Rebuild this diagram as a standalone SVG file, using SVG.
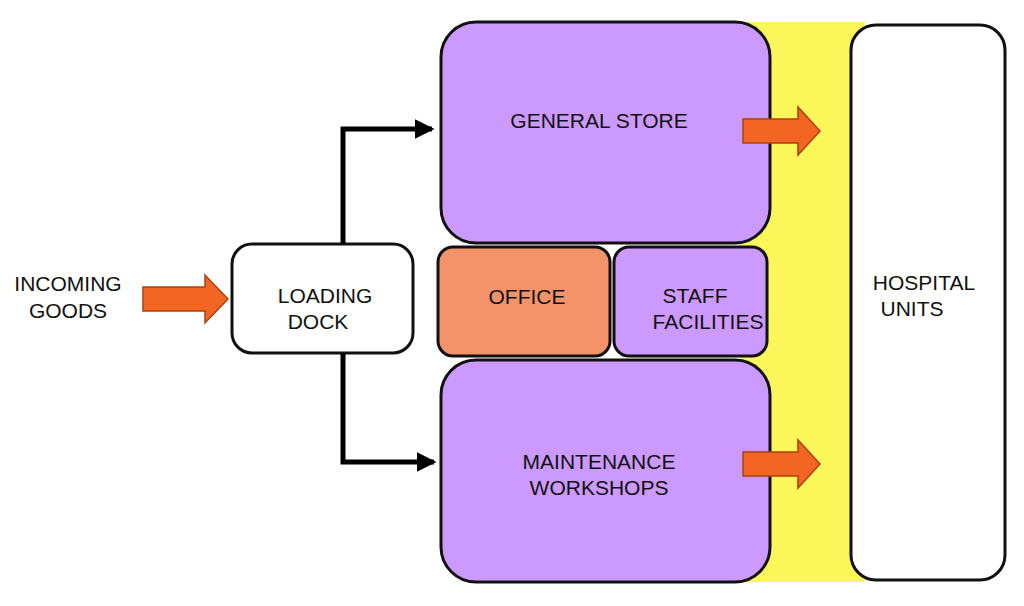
<svg xmlns="http://www.w3.org/2000/svg" width="1024" height="606" viewBox="0 0 1024 606">
<defs>
<style>
.box{stroke:#111;stroke-width:3}
.p{fill:#cc99ff}
.w{fill:#fff}
.t{font-family:"Liberation Sans",Arial,sans-serif;font-size:21px;fill:#111;text-anchor:middle}
.oa{fill:#f26522;stroke:#a8430f;stroke-width:1.5}
.c{fill:none;stroke:#000;stroke-width:5}
</style>
<marker id="ah" markerWidth="4" markerHeight="4" refX="3.5" refY="2" orient="auto" markerUnits="strokeWidth"><path d="M0,0 L4,2 L0,4 Z" fill="#000"/></marker>
</defs>
<rect width="1024" height="606" fill="#fff"/>
<rect x="740" y="22" width="125" height="560" fill="#fbf65a"/>
<g id="general-store"><rect class="box p" x="441" y="22" width="329" height="221" rx="35"/><text class="t" x="599" y="128">GENERAL STORE</text></g>
<g id="office"><rect class="box" fill="#f4936a" x="438" y="247" width="172" height="109" rx="15"/><text class="t" x="527" y="304">OFFICE</text></g>
<g id="staff-facilities"><rect class="box p" x="614" y="247" width="153" height="109" rx="15"/><text class="t" x="695" y="303">STAFF</text><text class="t" x="708" y="329">FACILITIES</text></g>
<g id="maintenance"><rect class="box p" x="441" y="360" width="329" height="222" rx="35"/><text class="t" x="599" y="469">MAINTENANCE</text><text class="t" x="599" y="495">WORKSHOPS</text></g>
<g id="hospital-units"><rect class="box w" x="851" y="25" width="154" height="555" rx="25"/><text class="t" x="924" y="290">HOSPITAL</text><text class="t" x="912" y="316">UNITS</text></g>
<g id="loading-dock"><rect class="box w" x="232" y="244" width="181" height="109" rx="20"/><text class="t" x="325" y="303">LOADING</text><text class="t" x="318" y="329">DOCK</text></g>
<g id="incoming-goods"><text class="t" x="68" y="291">INCOMING</text><text class="t" x="68" y="318">GOODS</text></g>
<g id="connectors">
<path class="c" d="M343,244 V129 H432" marker-end="url(#ah)"/>
<path class="c" d="M343,353 V462 H434" marker-end="url(#ah)"/>
<path class="oa" d="M143,287 H205 V275 L228,299 L205,323 V311 H143 Z"/>
<path class="oa" d="M743,119 H798 V107 L820,131 L798,155 V143 H743 Z"/>
<path class="oa" d="M743,452 H798 V440 L820,464 L798,488 V476 H743 Z"/>
</g>
</svg>
